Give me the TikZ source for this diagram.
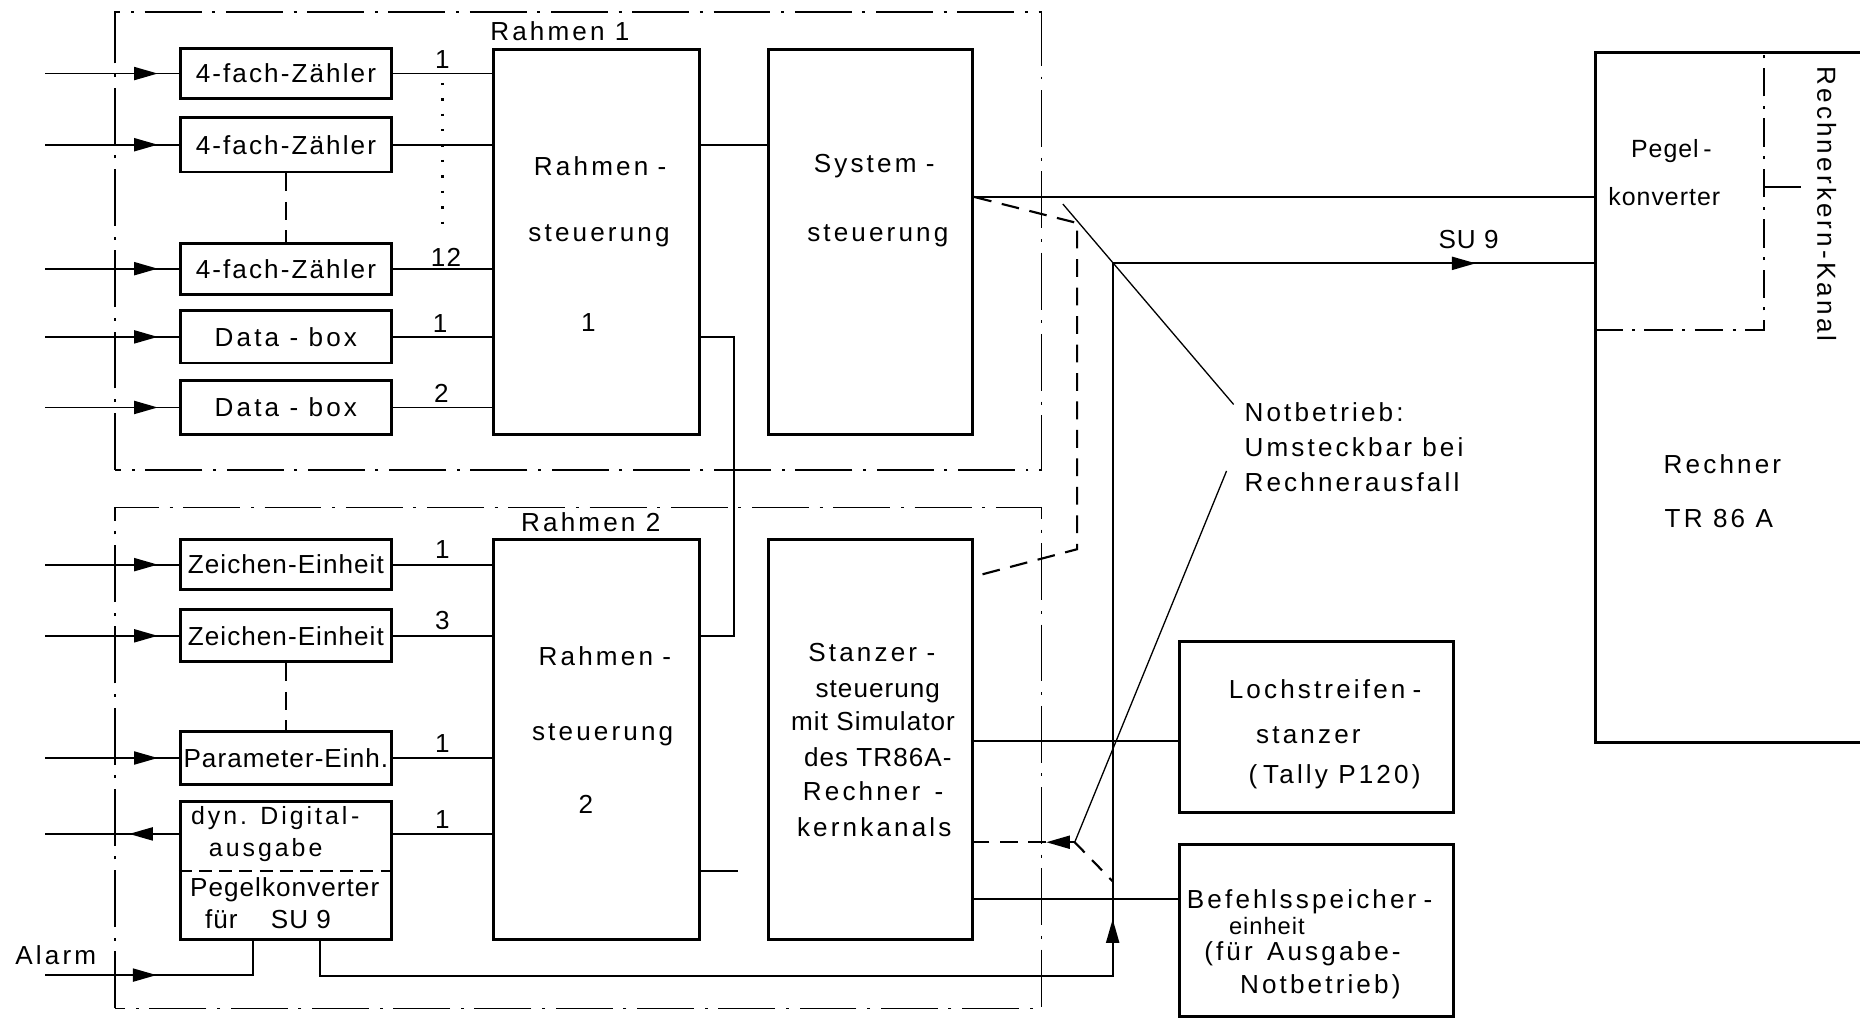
\documentclass[tikz,border=0pt]{standalone}
\usepackage{fontspec}
\setmainfont[LetterSpace=4]{Liberation Sans}
\newfontfamily\widefont[LetterSpace=12]{Liberation Sans}
\newfontfamily\midfont[LetterSpace=8]{Liberation Sans}
\usetikzlibrary{arrows.meta,decorations.markings,calc}
\tikzset{
  blk/.style={draw, line width=2.4pt, inner sep=0pt, font=\fontsize{22}{26}\selectfont},
  conn/.style={line width=1.6pt},
  thinl/.style={line width=1.1pt},
  rframe/.style={line width=1.3pt, dash pattern=on 48pt off 9pt on 2.5pt off 9pt},
  pkframe/.style={line width=1.3pt, dash pattern=on 24pt off 8pt on 2.5pt off 8pt},
  dsh/.style={line width=1.8pt, dash pattern=on 15pt off 9pt},
  dotl/.style={line width=2pt, dash pattern=on 2pt off 11pt},
  tn/.style={inner sep=0pt, font=\fontsize{22}{26}\selectfont},
  tw/.style={inner sep=0pt, font=\fontsize{22}{26}\selectfont\widefont},
  midarr/.style={postaction={decorate}, decoration={markings, mark=at position #1 with {\arrow{Triangle[length=20pt,width=11pt]}}}},
}
\begin{document}
\begin{tikzpicture}[x=1pt,y=-1pt]
\useasboundingbox (0,0) rectangle (1568,859);
\fill[white] (0,0) rectangle (1568,859);
\clip (0,0) rectangle (1568,859);

% frames
\draw[rframe] (97,396) -- (97,10) -- (878,10) -- (878,396) -- cycle;
\draw[rframe] (97,850) -- (97,428) -- (878,428) -- (878,850) -- cycle;
\node[tw] (r1lab) at (472,26) {Rahmen 1};
\node[tw] (r2lab) at (498,440) {Rahmen 2};

% Rahmen 1 left boxes
\node[blk, minimum width=178pt, minimum height=42pt, font=\fontsize{22}{26}\selectfont\midfont] (z1) at (241,62) {4-fach-Zähler};
\node[blk, minimum width=178pt, minimum height=46pt, font=\fontsize{22}{26}\selectfont\midfont] (z2) at (241,122) {4-fach-Zähler};
\node[blk, minimum width=178pt, minimum height=43pt, font=\fontsize{22}{26}\selectfont\midfont] (z3) at (241,226.5) {4-fach-Zähler};
\node[blk, minimum width=178pt, minimum height=44pt, font=\fontsize{22}{26}\selectfont\widefont] (d1) at (241,284) {Data - box};
\node[blk, minimum width=178pt, minimum height=45pt, font=\fontsize{22}{26}\selectfont\widefont] (d2) at (241,343.5) {Data - box};

% Rahmensteuerung 1, Systemsteuerung
\node[blk, minimum width=174pt, minimum height=324pt] (rs1) at (503,204) {};
\node[blk, minimum width=172pt, minimum height=324pt] (sys) at (734,204) {};
\node[tw] (rs1a) at (506,140) {Rahmen\kern8pt-};
\node[tw] (rs1b) at (505,199) {steuerung};
\node[tw] (rs1c) at (496,272) {1};
\node[tw] (sysa) at (737,140) {System\kern8pt-};
\node[tw] (sysb) at (740,199) {steuerung};

% Rahmen 2 left boxes
\node[blk, minimum width=178pt, minimum height=42pt] (ze1) at (241,476) {Zeichen-Einheit};
\node[blk, minimum width=178pt, minimum height=44pt] (ze2) at (241,536) {Zeichen-Einheit};
\node[blk, minimum width=178pt, minimum height=44pt] (pe) at (241,639) {Parameter-Einh.};
\node[blk, minimum width=178pt, minimum height=116pt] (dyn) at (241,734) {};
\node[tw, font=\fontsize{21}{24}\selectfont\widefont] (dyna) at (232,690) {dyn. Digital\kern3pt-};
\node[tw, font=\fontsize{21}{24}\selectfont\widefont] (dynb) at (224,717) {ausgabe};
\node[tn] (dync) at (240,750) {Pegelkonverter};
\node[tn] (dynd) at (226,775) {für\hspace{28pt}SU 9};
\draw[line width=1.5pt, dash pattern=on 11pt off 6pt] (dyn.west) -- (dyn.east);

% Rahmensteuerung 2, Stanzersteuerung
\node[blk, minimum width=174pt, minimum height=337pt] (rs2) at (503,623.5) {};
\node[blk, minimum width=172pt, minimum height=337pt] (st) at (734,623.5) {};
\node[tw] (rs2a) at (510,553) {Rahmen\kern8pt-};
\node[tw] (rs2b) at (508,619) {steuerung};
\node[tw] (rs2c) at (494,678) {2};
\node[tw] (sta) at (735,550) {Stanzer\kern8pt-};
\node[tn] (stb) at (740,583) {steuerung};
\node[tn] (stc) at (736,608) {mit Simulator};
\node[tn] (std) at (740,638) {des TR86A-};
\node[tw] (ste) at (736,667) {Rechner\kern12pt-};
\node[tw] (stf) at (737,697) {kernkanals};

% right boxes
\node[blk, minimum width=231pt, minimum height=144pt] (loch) at (1109.5,613) {};
\node[blk, minimum width=231pt, minimum height=145pt] (bef) at (1109.5,784.5) {};
\node[tw] (locha) at (1117,581) {Lochstreifen\kern6pt-};
\node[tw] (lochb) at (1103,620) {stanzer};
\node[tw] (lochc) at (1125,655) {(\kern5pt Tally P120)};
\node[tw] (befa) at (1104,760) {Befehlsspeicher\kern6pt-};
\node[tn, font=\fontsize{20}{24}\selectfont] (befb) at (1068,781) {einheit};
\node[tw] (befc) at (1098,804) {(für\hspace{12pt}Ausgabe-};
\node[tw] (befd) at (1113,832) {Notbetrieb)};

% Rechner
\node[draw, line width=2.4pt, minimum width=240pt, minimum height=582pt, inner sep=0pt] (rech) at (1465,335) {};
\coordinate (pkc) at (1487,278);
\draw[pkframe] (rech.west |- pkc) -- (pkc) -- (pkc |- rech.north);
\node[tn, font=\fontsize{21}{24}\selectfont] (pk1) at (1409,127) {Pegel\kern4pt-};
\node[tn, font=\fontsize{21}{24}\selectfont] (pk2) at (1403,166) {konverter};
\node[tw] (rr1) at (1452,391) {Rechner};
\node[tw] (rr2) at (1449,437) {TR 86 A};
\node[tw, rotate=-90] (rkk) at (1540,172) {Rechnerkern-Kanal};
\coordinate (kst) at (1518,158);
\draw[conn] (pkc |- kst) -- (kst);

% note
\node[tw, font=\fontsize{22}{29.5}\selectfont\widefont, align=left, anchor=north west] (note) at (1049,339) {Notbetrieb:\\Umsteckbar bei\\Rechnerausfall};

% inputs
\coordinate (lx) at (38,0);
\foreach \n in {z1,z2,z3,d1,d2,ze1,ze2,pe} \draw[conn, midarr=95pt] (lx |- \n.west) -- (\n.west);
\foreach \n in {z1,z2,z3,d1,d2} \draw[conn] (\n.east) -- (\n.east -| rs1.west);
\foreach \n in {ze1,ze2,pe} \draw[conn] (\n.east) -- (\n.east -| rs2.west);
\coordinate (lo) at (38,703);
\draw[conn] (dyn.east |- lo) -- (rs2.west |- lo);
\draw[conn, midarr=42pt] (dyn.west |- lo) -- (lo);

% numbers
\node[tn] (n1) at (373,50) {1};
\node[tn] (n2) at (376,217) {12};
\node[tn] (n3) at (371,273) {1};
\node[tn] (n4) at (372,332) {2};
\node[tn] (n5) at (373,463) {1};
\node[tn] (n6) at (373,523) {3};
\node[tn] (n7) at (373,627) {1};
\node[tn] (n8) at (373,691) {1};
\draw[dotl] ([yshift=-12pt]n1.south) -- ([yshift=12pt]n1.south |- n2.north);
\draw[dsh] (z2.south) -- (z3.north);
\draw[dsh] (ze2.south) -- (pe.north);

% internal links
\draw[conn] (rs1.east |- z2) -- (sys.west |- z2);
\coordinate (lk) at (619,0);
\draw[conn] (rs1.east |- d1) -| (lk |- ze2) -- (rs2.east |- ze2);
\draw[conn] (rs2.east |- dyn) -- ++(31,0);

% alarm
\coordinate (al) at (38,822);
\coordinate (alc) at (213,822);
\draw[conn, midarr=94pt] (al) -- (alc) -- (alc |- dyn.south);
\node[tw] (alarm) at (47,805) {Alarm};

% SU 9 route
\coordinate (bt) at (270,823);
\coordinate (sw) at (938,222);
\draw[conn, midarr=746pt] (bt |- dyn.south) -- (bt) -| (sw);
\draw[conn, midarr=306pt] (sw) -- (sw -| rech.west);
\node[tn] (su9) at (1238,202) {SU 9};

% Systemsteuerung to Pegelkonverter
\coordinate (lv1) at (0,166);
\draw[conn] (sys.east |- lv1) -- (rech.west |- lv1);
\coordinate (dA) at (908,188);
\coordinate (dB) at (908,463);
\coordinate (lv2) at (0,486);
\draw[dsh] (sys.east |- lv1) -- (dA) -- (dB) -- (st.east |- lv2);

% Stanzer outputs
\coordinate (lv3) at (0,625);
\draw[conn] (st.east |- lv3) -- (loch.west |- lv3);
\coordinate (lv4) at (0,758);
\draw[conn] (st.east |- lv4) -- (bef.west |- lv4);
\coordinate (ar) at (906,710);
\coordinate (sw2) at (938,743);
\draw[dsh, midarr=24pt] (ar) -- (st.east |- ar);
\draw[dsh, dash pattern=on 12pt off 9pt] (ar) -- (sw2);

% leaders
\coordinate (l1a) at (896,172);
\coordinate (l1b) at (1040,341);
\draw[thinl] (l1a) -- (l1b);
\coordinate (l2a) at (1034,397);
\draw[thinl] (l2a) -- (ar);
\end{tikzpicture}
\end{document}
